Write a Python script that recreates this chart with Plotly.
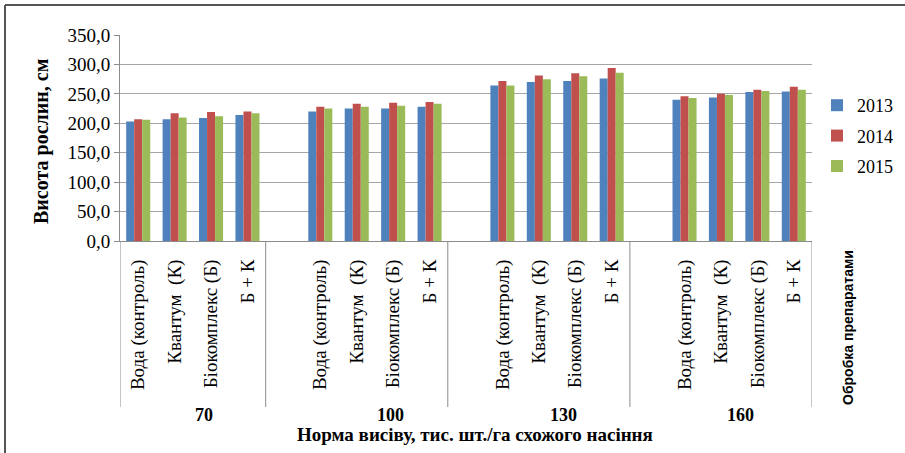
import plotly.graph_objects as go

groups = ["70", "100", "130", "160"]
treatments = ["Вода (контроль)", "Квантум\u00a0 (К)", "Біокомплекс (Б)", "Б + К"]
years = ["2013", "2014", "2015"]
v2013 = [203, 207, 209, 214, 220, 225, 225, 228, 264, 270, 272, 276, 240, 244, 253, 254]
v2014 = [207, 217, 219, 220, 228, 233, 235, 236, 272, 281, 285, 294, 246, 250, 257, 262]
v2015 = [206, 210, 212, 217, 225, 228, 230, 233, 264, 275, 280, 286, 243, 248, 255, 257]
y_ticks = [0, 50, 100, 150, 200, 250, 300, 350]

colors = ["#4F81BD", "#C0504D", "#9BBB59"]
SERIF = "Times New Roman, Liberation Serif, serif"
SANS = "Arial, Liberation Sans, sans-serif"

slot = 5  # 4 treatments + 1 blank slot between groups
positions = [g * slot + c for g in range(len(groups)) for c in range(len(treatments))]
ticktext = [t for _ in groups for t in treatments]
n_slots = slot * (len(groups) - 1) + len(treatments)

fig = go.Figure()
for name, vals, col in zip(years, [v2013, v2014, v2015], colors):
    fig.add_trace(go.Bar(x=positions, y=vals, name=name, marker_color=col,
                         marker_line_width=0, legendgroup=name))

W, H = 905, 453
L, R, T, B = 120, 93, 35, 212
pw, ph = W - L - R, H - T - B

def px_x(px):
    return (px - L) / pw

def px_y(py):
    return (H - B - py) / ph

fig.update_layout(
    width=W, height=H,
    margin=dict(l=L, r=R, t=T, b=B),
    plot_bgcolor="white", paper_bgcolor="white",
    barmode="group", bargap=0.34, bargroupgap=0,
    separators=", ",
    font=dict(family=SERIF, size=16, color="black"),
    legend=dict(xref="container", yref="container", x=817 / W, y=1 - 87 / H,
                xanchor="left", yanchor="top", itemwidth=30,
                font=dict(family=SERIF, size=18), tracegroupgap=4,
                bgcolor="rgba(0,0,0,0)"),
    xaxis=dict(range=[-0.5, n_slots - 0.5], tickvals=positions, ticktext=ticktext,
               tickangle=-90, ticks="", showgrid=False, showline=True,
               linecolor="#8c8c8c", linewidth=1, zeroline=False, automargin=False,
               tickfont=dict(family=SERIF, size=19), ticklabelstandoff=10),
    yaxis=dict(range=[0, 350], tickvals=y_ticks, tickformat=".1f",
               showgrid=True, gridcolor="#a6a6a6", gridwidth=1,
               showline=True, linecolor="#8c8c8c", linewidth=1, automargin=False,
               ticks="outside", ticklen=5, tickcolor="#8c8c8c",
               zeroline=False, tickfont=dict(family=SERIF, size=19)),
)

# group separators below the category axis
sep_x = [-0.5] + [g * slot + len(treatments) - 0.5 for g in range(len(groups) - 1)] + [n_slots - 0.5]
for sx in sep_x:
    fig.add_shape(type="line", xref="x", yref="paper", x0=sx, x1=sx,
                  y0=0, y1=px_y(407), line=dict(color="#8c8c8c", width=1))

def note(text, x, y, size, family=SERIF, angle=0):
    fig.add_annotation(xref="paper", yref="paper", x=px_x(x), y=px_y(y),
                       xanchor="center", yanchor="middle", text=text,
                       textangle=angle, showarrow=False,
                       font=dict(family=family, size=size))

# group labels
group_label_px = [204, 390, 563, 740]
for gname, gx in zip(groups, group_label_px):
    note("<b>%s</b>" % gname, gx, 415, 18)

# axis titles
note("<b>Норма висіву, тис. шт./га схожого насіння</b>", 475, 434, 19)
note("<b>Висота рослин, см</b>", 41, 142, 20, angle=-90)
note("<b>Обробка препаратами</b>", 848, 328, 14, family=SANS, angle=-90)

# chart frame (top and left edges visible)
fig.add_shape(type="line", xref="paper", yref="paper",
              x0=px_x(5), x1=px_x(905), y0=px_y(5), y1=px_y(5),
              line=dict(color="#555555", width=2))
fig.add_shape(type="line", xref="paper", yref="paper",
              x0=px_x(5), x1=px_x(5), y0=px_y(5), y1=px_y(453),
              line=dict(color="#555555", width=2))

fig.write_html("out.html", config={"displayModeBar": False},
               post_script="document.body.style.margin='0px';")
